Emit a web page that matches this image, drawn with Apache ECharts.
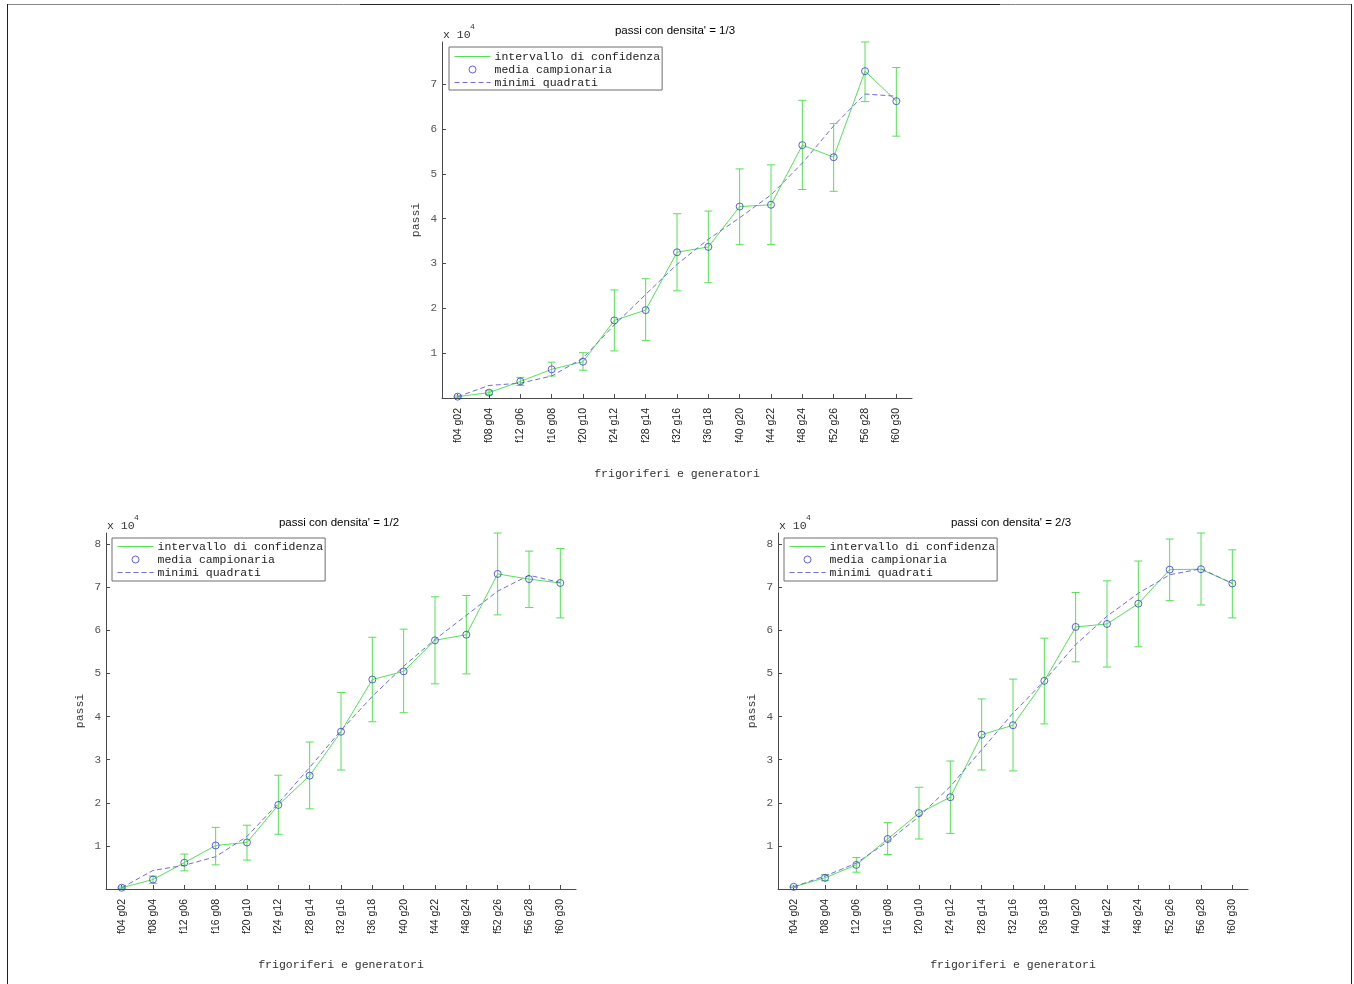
<!DOCTYPE html>
<html>
<head>
<meta charset="utf-8">
<title>passi con densita'</title>
<script src="https://cdn.jsdelivr.net/npm/echarts@6/dist/echarts.min.js"></script>
<style>
  html, body { margin: 0; padding: 0; background: #ffffff; }
  #chart { width: 1354px; height: 984px; }
</style>
</head>
<body>
<div id="chart"></div>
<script>
// Categorie: numero di frigoriferi (f) e generatori (g)
const categories = ['f04 g02', 'f08 g04', 'f12 g06', 'f16 g08', 'f20 g10', 'f24 g12', 'f28 g14',
  'f32 g16', 'f36 g18', 'f40 g20', 'f44 g22', 'f48 g24', 'f52 g26', 'f56 g28', 'f60 g30'];

// densita' = 1/3
const media13 = [300, 1200, 3700, 6400, 8100, 17300, 19600, 32500, 33700, 42700, 43100, 56400, 53700, 72900, 66200];
const inf13   = [150, 800, 2800, 4900, 6200, 10500, 12800, 23900, 25700, 34200, 34200, 46500, 46100, 66100, 58400];
const sup13   = [450, 1600, 4600, 8000, 10100, 24100, 26600, 41100, 41700, 51100, 52000, 66400, 61200, 79400, 73700];
const mq13    = [300, 2800, 3300, 4900, 8900, 16300, 23100, 29800, 35400, 40200, 45300, 52400, 60700, 67800, 67300];

// densita' = 1/2
const media12 = [300, 2200, 6100, 10100, 10800, 19500, 26300, 36500, 48600, 50500, 57700, 59000, 73100, 71900, 71000];
const inf12   = [150, 1300, 4200, 5600, 6700, 12700, 18600, 27600, 38800, 40900, 47600, 49900, 63600, 65300, 62900];
const sup12   = [450, 3000, 8100, 14300, 14800, 26400, 34100, 45600, 58400, 60300, 67800, 68100, 82600, 78400, 79000];
const mq12    = [300, 4300, 5500, 7500, 12200, 19900, 28200, 36800, 44700, 51700, 57900, 63500, 69100, 72800, 71100];

// densita' = 2/3
const media23 = [500, 2600, 5600, 11600, 17600, 21300, 35800, 38000, 48300, 60800, 61500, 66200, 74100, 74200, 70900];
const inf23   = [350, 1900, 3900, 8000, 11600, 12900, 27600, 27400, 38300, 52700, 51500, 56200, 66900, 65900, 62900];
const sup23   = [650, 3300, 7300, 15400, 23600, 29700, 44100, 48700, 58200, 68800, 71500, 76100, 81200, 82600, 78700];
const mq23    = [500, 3000, 6000, 11000, 16800, 23800, 32300, 40800, 48300, 56700, 63300, 68600, 72900, 74300, 70900];

const yTicks = [10000, 20000, 30000, 40000, 50000, 60000, 70000, 80000];

const GREEN = '#55e155';
const BLUE = '#3a3ad4';
const DASH = '#6e6edc';
const AXIS = '#4a4a4a';
const MONO = '"Liberation Mono", "DejaVu Sans Mono", monospace';
const SANS = '"Liberation Sans", Arial, sans-serif';

const S_CONF = 'intervallo di confidenza';
const S_MEDIA = 'media campionaria';
const S_MQ = 'minimi quadrati';

const panels = [
  { title: "passi con densita' = 1/3", media: media13, inf: inf13, sup: sup13, mq: mq13,
    grid: { left: 442, top: 42, width: 470, height: 356 }, titleX: 675, titleY: 31, expY: 35,
    legend: [449, 47], legendPad: [3, 2, 1, 5] },
  { title: "passi con densita' = 1/2", media: media12, inf: inf12, sup: sup12, mq: mq12,
    grid: { left: 106, top: 533, width: 470, height: 356 }, titleX: 339, titleY: 523, expY: 526,
    legend: [112, 538], legendPad: [2, 2, 2, 5] },
  { title: "passi con densita' = 2/3", media: media23, inf: inf23, sup: sup23, mq: mq23,
    grid: { left: 778, top: 533, width: 470, height: 356 }, titleX: 1011, titleY: 523, expY: 526,
    legend: [784, 538], legendPad: [2, 2, 2, 5] }
];

// Barre d'errore verticali con stanghette alle estremita'
function renderErrorBar(params, api) {
  const idx = api.value(0);
  const top = api.coord([idx, api.value(2)]);
  const bot = api.coord([idx, api.value(1)]);
  const half = 4;
  const style = { stroke: GREEN, lineWidth: 1, fill: null };
  return {
    type: 'group',
    children: [
      { type: 'line', shape: { x1: top[0], y1: top[1], x2: bot[0], y2: bot[1] }, style },
      { type: 'line', shape: { x1: top[0] - half, y1: top[1], x2: top[0] + half, y2: top[1] }, style },
      { type: 'line', shape: { x1: bot[0] - half, y1: bot[1], x2: bot[0] + half, y2: bot[1] }, style }
    ]
  };
}

// Voci di legenda: le linee senza simbolo, il cerchio vuoto per la media
const hiddenSymbol = { opacity: 0, borderWidth: 0 };
const legendItems = [
  { name: S_CONF, itemStyle: hiddenSymbol, lineStyle: { width: 1, color: GREEN } },
  { name: S_MEDIA, itemStyle: { color: 'rgba(0,0,0,0)', borderColor: BLUE, borderWidth: 1 } },
  { name: S_MQ, itemStyle: hiddenSymbol, lineStyle: { width: 1, color: DASH, type: [5, 3] } }
];

const grids = [], xAxes = [], yAxes = [], series = [], legends = [], graphics = [];

panels.forEach((p, i) => {
  grids.push(Object.assign({ containLabel: false }, p.grid));
  const yMax = Math.max(...p.sup);
  const ticks = yTicks.filter(v => v <= yMax);

  xAxes.push({
    type: 'category', gridIndex: i, data: categories, boundaryGap: true,
    axisLine: { show: true, lineStyle: { color: AXIS, width: 1 } },
    axisTick: { show: true, inside: true, length: 4, alignWithLabel: true, lineStyle: { color: AXIS } },
    axisLabel: { rotate: 90, interval: 0, margin: 10, fontFamily: SANS, fontSize: 10.5, color: '#222' },
    splitLine: { show: false },
    name: 'frigoriferi e generatori', nameLocation: 'middle', nameGap: 70,
    nameTextStyle: { fontFamily: MONO, fontSize: 11.5, color: '#333' }
  });

  yAxes.push({
    type: 'value', gridIndex: i, min: 0, max: yMax,
    axisLine: { show: true, lineStyle: { color: AXIS, width: 1 } },
    axisTick: { show: true, inside: true, length: 4, customValues: ticks, lineStyle: { color: AXIS } },
    axisLabel: { customValues: ticks, formatter: v => String(Math.round(v / 10000)),
      margin: 5, fontFamily: MONO, fontSize: 11, color: '#555' },
    splitLine: { show: false },
    name: 'passi', nameLocation: 'middle', nameGap: 20, nameRotate: 90,
    nameTextStyle: { fontFamily: MONO, fontSize: 11.5, color: '#333' }
  });

  series.push({
    name: S_CONF, type: 'line', xAxisIndex: i, yAxisIndex: i, data: p.media,
    symbol: 'none', lineStyle: { color: GREEN, width: 1 }, itemStyle: { color: GREEN },
    silent: true, z: 2
  });
  series.push({
    name: S_CONF, type: 'custom', xAxisIndex: i, yAxisIndex: i,
    data: p.inf.map((lo, k) => [k, lo, p.sup[k]]),
    encode: { x: 0, y: [1, 2] }, renderItem: renderErrorBar,
    itemStyle: { color: GREEN }, silent: true, z: 2
  });
  series.push({
    name: S_MEDIA, type: 'scatter', xAxisIndex: i, yAxisIndex: i, data: p.media,
    symbol: 'circle', symbolSize: 7,
    itemStyle: { color: 'rgba(0,0,0,0)', borderColor: BLUE, borderWidth: 1 }, z: 4
  });
  series.push({
    name: S_MQ, type: 'line', xAxisIndex: i, yAxisIndex: i, data: p.mq,
    symbol: 'none', lineStyle: { color: DASH, width: 1, type: [5, 3] }, itemStyle: { color: DASH },
    silent: true, z: 3
  });

  legends.push({
    orient: 'vertical', left: p.legend[0], top: p.legend[1],
    data: legendItems,
    itemWidth: 36, itemHeight: 7, itemGap: 0,
    padding: p.legendPad,
    backgroundColor: '#ffffff', borderColor: '#6e6e6e', borderWidth: 1, borderRadius: 0,
    textStyle: { fontFamily: MONO, fontSize: 11.5, color: '#222', lineHeight: 13, padding: [0, 0, 0, -1] },
    selectedMode: false
  });

  graphics.push({
    type: 'text', x: p.titleX, y: p.titleY,
    style: { text: p.title, font: '11.5px ' + SANS, fill: '#000', textAlign: 'center', textVerticalAlign: 'middle' }
  });
  graphics.push({
    type: 'text', x: p.grid.left + 1, y: p.expY,
    style: { text: 'x 10', font: '11.5px ' + MONO, fill: '#333', textAlign: 'left', textVerticalAlign: 'middle' }
  });
  graphics.push({
    type: 'text', x: p.grid.left + 28, y: p.expY - 8,
    style: { text: '4', font: '8px ' + MONO, fill: '#333', textAlign: 'left', textVerticalAlign: 'middle' }
  });
});

// Cornice della figura
graphics.push(
  { type: 'line', shape: { x1: 7, y1: 4.5, x2: 1352, y2: 4.5 }, style: { stroke: '#888', lineWidth: 1 } },
  { type: 'line', shape: { x1: 360, y1: 4.5, x2: 1000, y2: 4.5 }, style: { stroke: '#222', lineWidth: 1 } },
  { type: 'line', shape: { x1: 7.5, y1: 4, x2: 7.5, y2: 984 }, style: { stroke: '#222', lineWidth: 1 } },
  { type: 'line', shape: { x1: 1351.5, y1: 4, x2: 1351.5, y2: 984 }, style: { stroke: '#222', lineWidth: 1 } }
);

const chart = echarts.init(document.getElementById('chart'), null, { renderer: 'canvas' });
chart.setOption({
  backgroundColor: '#ffffff',
  animation: false,
  grid: grids,
  xAxis: xAxes,
  yAxis: yAxes,
  legend: legends,
  series: series,
  graphic: { elements: graphics }
});
</script>
</body>
</html>
